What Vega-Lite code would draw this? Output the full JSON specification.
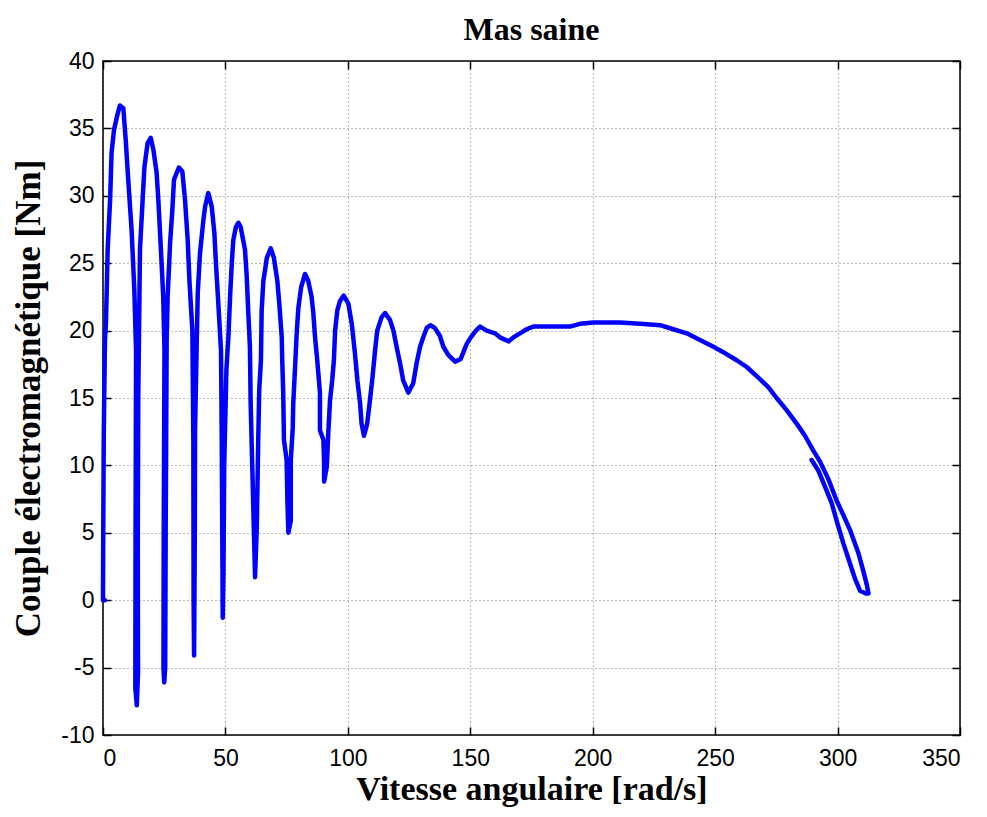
{
  "$schema": "https://vega.github.io/schema/vega-lite/v6.json",
  "width": 857,
  "height": 674,
  "autosize": {"type": "none"},
  "padding": {"left": 103, "top": 61, "right": 27, "bottom": 82},
  "background": "white",
  "title": {"text": "Mas saine", "font": "Liberation Serif", "fontSize": 32, "fontWeight": "bold", "color": "#000", "offset": 3},
  "config": {
    "view": {"stroke": "#000", "strokeWidth": 1.5},
    "axis": {"labelFont": "Liberation Sans", "labelFontSize": 23, "labelColor": "#000", "titleFont": "Liberation Serif", "titleFontWeight": "bold", "titleColor": "#000", "domain": false, "tickColor": "#000", "tickWidth": 1.5, "tickSize": -8, "gridColor": "#000", "gridDash": [1, 3], "gridOpacity": 0.55, "gridWidth": 1, "labelExpr": "'' + datum.value"}
  },
  "data": {"values": [
    {"i":0,"w":0.8,"c":0},{"i":1,"w":0,"c":0},{"i":2,"w":0.1,"c":5},{"i":3,"w":0.3,"c":12},{"i":4,"w":0.8,"c":19.3},{"i":5,"w":1.2,"c":20.5},{"i":6,"w":1.9,"c":26.0},{"i":7,"w":2.9,"c":29.7},{"i":8,"w":3.5,"c":33.2},{"i":9,"w":4.5,"c":34.9},{"i":10,"w":6.0,"c":36.1},{"i":11,"w":6.9,"c":36.7},{"i":12,"w":8.3,"c":36.5},{"i":13,"w":9.3,"c":34.1},{"i":14,"w":10.3,"c":31.2},{"i":15,"w":11.7,"c":27.4},{"i":16,"w":12.8,"c":23.0},{"i":17,"w":13.5,"c":18.5},{"i":18,"w":13.3,"c":5},{"i":19,"w":13.2,"c":-6.5},{"i":20,"w":13.8,"c":-7.8},{"i":21,"w":14.3,"c":-5.4},{"i":22,"w":14.2,"c":4.5},{"i":23,"w":14.4,"c":15},{"i":24,"w":15.1,"c":26.0},
    {"i":25,"w":16.9,"c":32.1},{"i":26,"w":18.2,"c":33.9},{"i":27,"w":19.5,"c":34.3},{"i":28,"w":20.6,"c":33.4},{"i":29,"w":21.9,"c":31.7},{"i":30,"w":22.6,"c":29.7},{"i":31,"w":23.6,"c":26.2},{"i":32,"w":24.6,"c":22.5},{"i":33,"w":25.1,"c":18.5},{"i":34,"w":24.8,"c":5},{"i":35,"w":24.7,"c":-5},{"i":36,"w":25.0,"c":-6.1},{"i":37,"w":25.4,"c":-5},{"i":38,"w":25.6,"c":5},{"i":39,"w":26.0,"c":19.3},
    {"i":40,"w":26.4,"c":22.5},{"i":41,"w":27.4,"c":26.5},{"i":42,"w":28.3,"c":28.9},{"i":43,"w":29.0,"c":31.2},{"i":44,"w":31.0,"c":32.1},{"i":45,"w":32.4,"c":31.8},{"i":46,"w":33.5,"c":29.7},{"i":47,"w":34.6,"c":26.7},{"i":48,"w":35.3,"c":23.7},{"i":49,"w":36.5,"c":20.0},{"i":50,"w":36.9,"c":11.9},{"i":51,"w":37.0,"c":0},{"i":52,"w":37.2,"c":-4.1},{"i":53,"w":37.5,"c":5},{"i":54,"w":37.6,"c":12.6},{"i":55,"w":38.3,"c":19.3},
    {"i":56,"w":38.7,"c":22.8},{"i":57,"w":39.6,"c":25.7},{"i":58,"w":41.0,"c":28.2},{"i":59,"w":41.7,"c":29.2},{"i":60,"w":43.0,"c":30.2},{"i":61,"w":44.4,"c":29.2},{"i":62,"w":45.5,"c":27.2},{"i":63,"w":46.0,"c":25.4},{"i":64,"w":47.1,"c":22.0},{"i":65,"w":48.2,"c":18.5},{"i":66,"w":48.5,"c":11.9},{"i":67,"w":48.9,"c":-1.3},{"i":68,"w":49.2,"c":2},{"i":69,"w":49.5,"c":10},{"i":70,"w":50.4,"c":17.1},
    {"i":71,"w":51.2,"c":19.5},{"i":72,"w":51.9,"c":22.5},{"i":73,"w":52.6,"c":25.0},{"i":74,"w":53.2,"c":26.7},{"i":75,"w":54.3,"c":27.7},{"i":76,"w":55.3,"c":28.0},{"i":77,"w":56.2,"c":27.7},{"i":78,"w":58.0,"c":26.0},{"i":79,"w":58.7,"c":24.0},{"i":80,"w":59.3,"c":21.5},{"i":81,"w":60.0,"c":18.8},{"i":82,"w":60.3,"c":14.6},{"i":83,"w":61.1,"c":8.9},{"i":84,"w":62.1,"c":1.7},{"i":85,"w":62.8,"c":5.4},{"i":86,"w":63.4,"c":11.9},{"i":87,"w":63.8,"c":15.6},{"i":88,"w":64.5,"c":17.8},
    {"i":89,"w":64.8,"c":21.5},{"i":90,"w":65.5,"c":23.7},{"i":91,"w":66.2,"c":24.5},{"i":92,"w":66.9,"c":25.4},{"i":93,"w":68.5,"c":26.1},{"i":94,"w":69.8,"c":25.4},{"i":95,"w":71.2,"c":23.7},{"i":96,"w":72.0,"c":22.0},{"i":97,"w":73.0,"c":19.5},{"i":98,"w":73.2,"c":17.8},{"i":99,"w":73.6,"c":15.4},{"i":100,"w":73.9,"c":11.9},{"i":101,"w":75.0,"c":10.4},{"i":102,"w":75.3,"c":7.4},{"i":103,"w":75.7,"c":5.0},{"i":104,"w":76.7,"c":5.9},{"i":105,"w":76.7,"c":10.4},{"i":106,"w":77.5,"c":12.8},{"i":107,"w":77.7,"c":14.6},{"i":108,"w":78.4,"c":17.1},
    {"i":109,"w":79.1,"c":19.8},{"i":110,"w":79.8,"c":21.7},{"i":111,"w":80.9,"c":23.2},{"i":112,"w":82.5,"c":24.2},{"i":113,"w":83.8,"c":23.7},{"i":114,"w":85.2,"c":22.5},{"i":115,"w":85.9,"c":21.3},{"i":116,"w":86.6,"c":19.5},{"i":117,"w":87.5,"c":17.8},{"i":118,"w":88.6,"c":15.4},{"i":119,"w":88.6,"c":12.6},{"i":120,"w":90.0,"c":11.9},{"i":121,"w":90.3,"c":10.2},{"i":122,"w":90.3,"c":8.8},{"i":123,"w":91.4,"c":9.9},{"i":124,"w":92.0,"c":12.4},{"i":125,"w":92.7,"c":14.8},{"i":126,"w":93.6,"c":16.3},{"i":127,"w":94.3,"c":17.8},
    {"i":128,"w":94.8,"c":20.0},{"i":129,"w":95.7,"c":21.5},{"i":130,"w":96.8,"c":22.2},{"i":131,"w":98.3,"c":22.6},{"i":132,"w":100.2,"c":22.0},{"i":133,"w":101.6,"c":20.5},{"i":134,"w":102.9,"c":18.3},{"i":135,"w":103.9,"c":16.3},{"i":136,"w":105.0,"c":14.6},{"i":137,"w":105.6,"c":13.1},{"i":138,"w":106.6,"c":12.2},{"i":139,"w":107.9,"c":13.1},{"i":140,"w":109.0,"c":14.8},{"i":141,"w":110.1,"c":16.6},{"i":142,"w":111.1,"c":18.5},{"i":143,"w":112.0,"c":20.0},{"i":144,"w":113.8,"c":21.0},{"i":145,"w":115.2,"c":21.3},{"i":146,"w":117.2,"c":20.8},{"i":147,"w":118.6,"c":20.0},{"i":148,"w":119.9,"c":18.8},{"i":149,"w":121.3,"c":17.6},{"i":150,"w":122.6,"c":16.3},{"i":151,"w":124.7,"c":15.4},{"i":152,"w":126.7,"c":16.1},{"i":153,"w":128.1,"c":17.6},{"i":154,"w":129.5,"c":18.8},{"i":155,"w":130.8,"c":19.5},{"i":156,"w":132.2,"c":20.2},{"i":157,"w":133.7,"c":20.4},{"i":158,"w":135.5,"c":20.2},{"i":159,"w":137.6,"c":19.6},{"i":160,"w":139.0,"c":18.8},{"i":161,"w":141.0,"c":18.2},{"i":162,"w":143.8,"c":17.7},{"i":163,"w":146.1,"c":17.9},{"i":164,"w":148.5,"c":19.0},{"i":165,"w":150.2,"c":19.5},{"i":166,"w":152.3,"c":20.0},{"i":167,"w":154.0,"c":20.3},{"i":168,"w":156.7,"c":20.0},{"i":169,"w":160.1,"c":19.8},{"i":170,"w":162.1,"c":19.5},{"i":171,"w":165.7,"c":19.2},{"i":172,"w":167.6,"c":19.5},{"i":173,"w":170.3,"c":19.8},{"i":174,"w":173.0,"c":20.1},{"i":175,"w":175.7,"c":20.3},{"i":176,"w":183.9,"c":20.3},{"i":177,"w":190.7,"c":20.3},{"i":178,"w":194.8,"c":20.5},{"i":179,"w":200.2,"c":20.6},{"i":180,"w":208.4,"c":20.6},{"i":181,"w":211.1,"c":20.6},{"i":182,"w":219.3,"c":20.5},{"i":183,"w":227.5,"c":20.4},{"i":184,"w":232.9,"c":20.1},{"i":185,"w":238.4,"c":19.8},{"i":186,"w":243.8,"c":19.3},{"i":187,"w":249.3,"c":18.8},{"i":188,"w":253.3,"c":18.4},{"i":189,"w":258.8,"c":17.8},{"i":190,"w":262.9,"c":17.3},{"i":191,"w":268.3,"c":16.4},{"i":192,"w":271.7,"c":15.8},{"i":193,"w":275.1,"c":15.0},{"i":194,"w":279.2,"c":14.1},{"i":195,"w":283.3,"c":13.1},{"i":196,"w":286.7,"c":12.2},{"i":197,"w":290.1,"c":11.1},{"i":198,"w":292.8,"c":10.3},{"i":199,"w":296.2,"c":9.0},{"i":200,"w":299.6,"c":7.4},{"i":201,"w":302.4,"c":6.3},{"i":202,"w":305.1,"c":5.2},{"i":203,"w":308.5,"c":3.5},{"i":204,"w":310.6,"c":2.1},{"i":205,"w":312.0,"c":1.1},{"i":206,"w":312.6,"c":0.5},{"i":207,"w":311.5,"c":0.5},{"i":208,"w":309.2,"c":0.7},{"i":209,"w":307.1,"c":1.6},{"i":210,"w":305.1,"c":2.7},{"i":211,"w":302.4,"c":4.2},{"i":212,"w":299.6,"c":5.9},{"i":213,"w":297.6,"c":7.2},{"i":214,"w":294.9,"c":8.4},{"i":215,"w":292.2,"c":9.6},{"i":216,"w":289.4,"c":10.4}
  ]},
  "layer": [
    {
      "mark": {"type": "line", "color": "#0000FF", "strokeWidth": 4.5, "strokeCap": "round", "strokeJoin": "round", "clip": false},
      "encoding": {
        "x": {"field": "w", "type": "quantitative", "scale": {"domain": [0, 350], "nice": false, "zero": false}, "axis": {"title": "Vitesse angulaire [rad/s]", "titleFontSize": 34, "values": [0, 50, 100, 150, 200, 250, 300, 350], "labelPadding": 20, "titlePadding": 2}},
        "y": {"field": "c", "type": "quantitative", "scale": {"domain": [-10, 40], "nice": false, "zero": false}, "axis": {"title": "Couple électromagnétique [Nm]", "titleFontSize": 35, "values": [-10, -5, 0, 5, 10, 15, 20, 25, 30, 35, 40], "labelPadding": 17, "titlePadding": 14}},
        "order": {"field": "i", "type": "quantitative"}
      }
    },
    {
      "mark": {"type": "point", "opacity": 0},
      "encoding": {
        "x": {"field": "w", "type": "quantitative", "scale": {"domain": [0, 350], "nice": false, "zero": false}, "axis": {"orient": "top", "title": null, "labels": false, "grid": false, "values": [0, 50, 100, 150, 200, 250, 300, 350]}},
        "y": {"field": "c", "type": "quantitative", "scale": {"domain": [-10, 40], "nice": false, "zero": false}, "axis": {"orient": "right", "title": null, "labels": false, "grid": false, "values": [-10, -5, 0, 5, 10, 15, 20, 25, 30, 35, 40]}}
      }
    }
  ],
  "resolve": {"axis": {"x": "independent", "y": "independent"}}
}
